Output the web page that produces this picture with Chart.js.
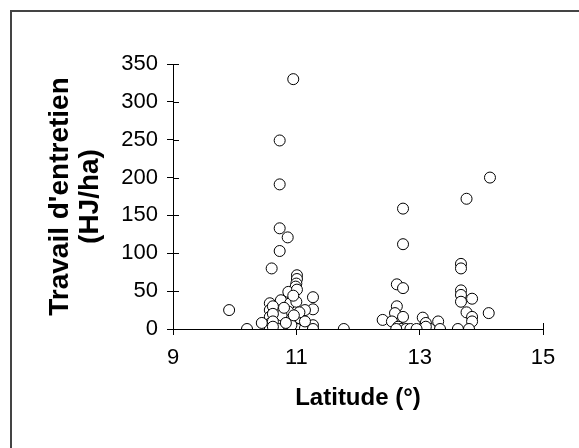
<!DOCTYPE html>
<html>
<head>
<meta charset="utf-8">
<script src="https://cdn.jsdelivr.net/npm/chart.js@4"></script>
<style>
  html, body { margin: 0; padding: 0; background: #fff; overflow: hidden; }
  #frame { position: absolute; left: 10px; top: 10px; width: 620px; height: 500px; border: 2px solid #444; }
  #wrap { position: absolute; left: 0; top: 0; width: 579px; height: 448px; }
</style>
</head>
<body>
<div id="frame"></div>
<div id="wrap"><canvas id="myChart"></canvas></div>
<script>
// latitude (degrees) and maintenance work (HJ/ha)
const latitude = [
    9.91, 10.2, 11.77,
    10.95, 10.73, 10.73, 10.73, 10.86, 10.73, 10.6,
    11.01, 11.01, 11.0, 10.99, 10.87, 11.01, 10.75, 10.9, 11.0, 11.27,
    11.27, 10.57, 10.57, 10.57, 10.57, 10.57, 10.44, 10.87, 10.9, 11.06,
    10.76, 10.87, 11.01, 11.14, 11.27, 11.27, 10.71, 11.14, 11.14, 10.95,
    10.8, 10.62, 10.62, 10.62, 10.62, 10.92, 11.05, 10.83, 10.96,
    12.73, 12.73, 12.63, 12.73, 12.63, 12.4, 12.6, 12.73, 12.55, 12.65,
    12.7, 12.78, 12.85, 12.62, 13.05, 13.1, 13.3, 13.03, 13.17, 13.33,
    13.1, 12.95,
    13.76, 14.14, 13.67, 13.67, 13.67, 13.67, 13.67, 13.85, 13.76, 13.85,
    13.85, 14.12, 13.62, 13.8
];
const travail = [
    25, 0, 0,
    330, 249, 191, 133, 121, 103, 80,
    71, 66, 60, 56, 49, 52, 38, 34, 36, 42,
    26, 34, 25, 16, 7, 0, 8, 23, 12, 14,
    18, 0, 0, 1, 5, 0, 0, 10, 25, 44,
    28, 30, 20, 10, 3, 5, 22, 8, 18,
    159, 112, 59, 54, 30, 12, 21, 16, 10, 3,
    0, 0, 0, 0, 15, 8, 10, 0, 0, 0,
    3, 0,
    172, 200, 86, 80, 51, 45, 36, 40, 22, 16,
    10, 21, 0, 0
];
const xTicks = [9, 11, 13, 15];
const yTicks = [0, 50, 100, 150, 200, 250, 300, 350];

const points = latitude.map((x, i) => ({ x: x, y: travail[i] }));

// short tick marks pointing into the plot, like the original
const innerTicks = {
    id: 'innerTicks',
    beforeDatasetsDraw(chart) {
        const c = chart.ctx;
        const xs = chart.scales.x, ys = chart.scales.y;
        c.save();
        c.strokeStyle = '#000';
        c.lineWidth = 1;
        c.beginPath();
        yTicks.forEach(v => {
            const py = Math.round(ys.getPixelForValue(v)) + 0.5;
            c.moveTo(xs.left, py);
            c.lineTo(xs.left + 6, py);
        });
        const px = Math.round(xs.getPixelForValue(15)) + 0.5;
        c.moveTo(px, ys.bottom);
        c.lineTo(px, ys.bottom - 6);
        c.stroke();
        c.restore();
    }
};

const ctx = document.getElementById('myChart');
new Chart(ctx, {
    type: 'scatter',
    data: {
        datasets: [{
            data: points,
            pointRadius: 5.5,
            pointBackgroundColor: '#fff',
            pointBorderColor: '#000',
            pointBorderWidth: 1
        }]
    },
    options: {
        responsive: true,
        maintainAspectRatio: false,
        animation: false,
        layout: { padding: { left: 20, top: 64, right: 36, bottom: 31 } },
        plugins: {
            legend: { display: false },
            tooltip: { enabled: false }
        },
        scales: {
            x: {
                type: 'linear',
                min: 9,
                max: 15,
                afterBuildTicks: s => { s.ticks = xTicks.map(v => ({ value: v })); },
                afterFit: s => { s.height = 88; },
                ticks: {
                    color: '#000',
                    padding: 10,
                    maxRotation: 0,
                    font: { family: 'Liberation Sans, Arial, sans-serif', size: 22 }
                },
                grid: { drawOnChartArea: false, color: '#000', tickLength: 6 },
                border: { color: '#000', width: 1 },
                title: {
                    display: true,
                    text: 'Latitude (°)',
                    color: '#000',
                    font: { family: 'Liberation Sans, Arial, sans-serif', size: 24, weight: 'bold' }
                }
            },
            y: {
                min: 0,
                max: 350,
                afterBuildTicks: s => { s.ticks = yTicks.map(v => ({ value: v })); },
                afterFit: s => { s.width = 153; },
                ticks: {
                    color: '#000',
                    padding: 9,
                    font: { family: 'Liberation Sans, Arial, sans-serif', size: 22 }
                },
                grid: { drawOnChartArea: false, color: '#000', tickLength: 6 },
                border: { color: '#000', width: 1 },
                title: {
                    display: true,
                    text: ["Travail d'entretien", '(HJ/ha)'],
                    color: '#000',
                    padding: { top: 26, bottom: 0 },
                    font: { family: 'Liberation Sans, Arial, sans-serif', size: 28, weight: 'bold', lineHeight: 1.05 }
                }
            }
        }
    },
    plugins: [innerTicks]
});
</script>
</body>
</html>
